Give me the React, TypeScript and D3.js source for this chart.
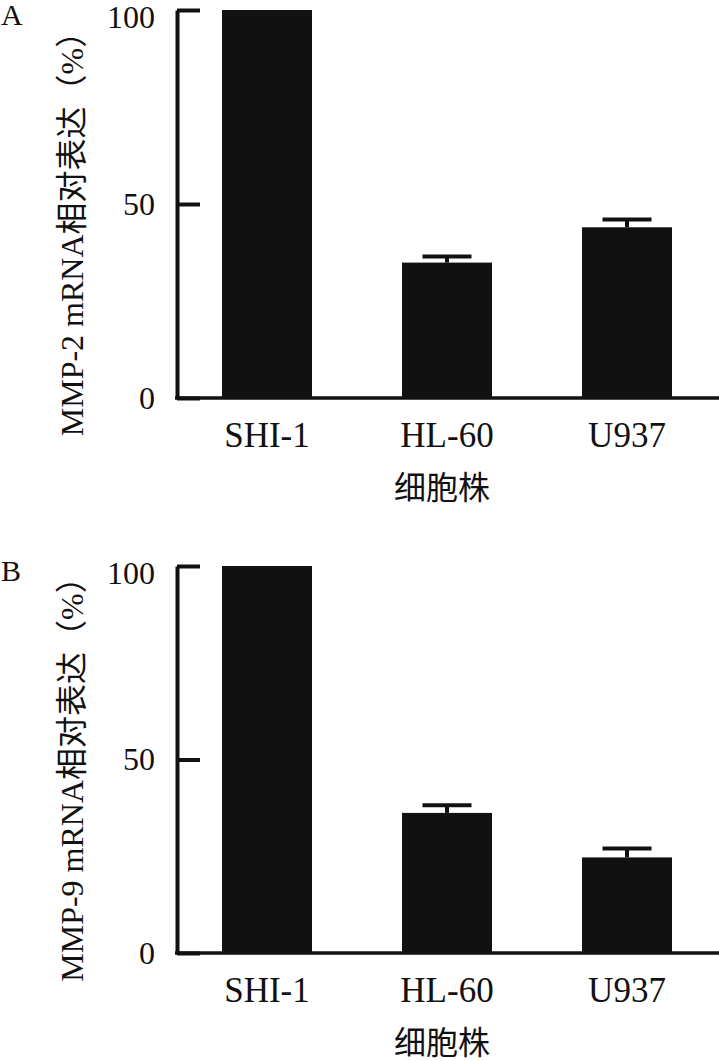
import React, { useEffect, useRef } from 'react';
import * as d3 from 'd3';

const cellLines = ['SHI-1', 'HL-60', 'U937'];
const mmp2Values = [100, 34.9, 44.0];
const mmp2Errors = [0, 1.6, 2.0];
const mmp9Values = [100, 36.2, 24.7];
const mmp9Errors = [0, 2.0, 2.3];
const yTicks = [0, 50, 100];

const panels = [
  { letter: 'A', title: 'MMP-2 mRNA相对表达（%）', values: mmp2Values, errors: mmp2Errors, top: 10, bottom: 398, titleShift: 22 },
  { letter: 'B', title: 'MMP-9 mRNA相对表达（%）', values: mmp9Values, errors: mmp9Errors, top: 566, bottom: 953, titleShift: 12 },
];

const W = 719, H = 1061;
const SERIF = '"Liberation Serif", "Times New Roman", "Noto Sans CJK SC", serif';

export default function App() {
  const ref = useRef<SVGSVGElement>(null);

  useEffect(() => {
    const svg = d3.select(ref.current);
    svg.selectAll('*').remove();

    const axisX = 177;
    const x = d3.scaleBand<string>()
      .domain(cellLines)
      .range([axisX, 717])
      .paddingInner(0.5)
      .paddingOuter(0.25);

    panels.forEach(p => {
      const g = svg.append('g');
      const y = d3.scaleLinear().domain([0, 100]).range([p.bottom, p.top]);

      // bars
      g.selectAll('rect.bar')
        .data(p.values)
        .enter()
        .append('rect')
        .attr('class', 'bar')
        .attr('x', (d, i) => x(cellLines[i]) as number)
        .attr('y', d => y(d))
        .attr('width', x.bandwidth())
        .attr('height', d => p.bottom - y(d))
        .attr('fill', '#111');

      // error bars (only upward)
      p.values.forEach((v, i) => {
        if (!p.errors[i]) return;
        const cx = (x(cellLines[i]) as number) + x.bandwidth() / 2;
        const capW = 49;
        g.append('line')
          .attr('x1', cx).attr('x2', cx)
          .attr('y1', y(v)).attr('y2', y(v + p.errors[i]))
          .attr('stroke', '#111').attr('stroke-width', 4);
        g.append('line')
          .attr('x1', cx - capW / 2).attr('x2', cx + capW / 2)
          .attr('y1', y(v + p.errors[i])).attr('y2', y(v + p.errors[i]))
          .attr('stroke', '#111').attr('stroke-width', 4);
      });

      // y axis, ticks pointing inward
      const gy = g.append('g')
        .attr('transform', `translate(${axisX},0)`)
        .call(d3.axisLeft(y).tickValues(yTicks).tickSizeInner(-23).tickSizeOuter(0).tickPadding(22));
      gy.select('.domain').attr('stroke', '#111').attr('stroke-width', 4);
      gy.selectAll('.tick line').attr('stroke', '#111').attr('stroke-width', 4);
      gy.selectAll('.tick text')
        .attr('font-family', SERIF)
        .attr('font-size', 32)
        .attr('fill', '#111')
        .attr('transform', d => (d === 100 ? 'translate(0,7)' : null));

      // x axis
      const gx = g.append('g')
        .attr('transform', `translate(0,${p.bottom})`)
        .call(d3.axisBottom(x).tickSize(0).tickPadding(24));
      gx.select('.domain').attr('stroke', '#111').attr('stroke-width', 3.5)
        .attr('d', `M${axisX - 2},0H${W}`);
      gx.selectAll('.tick text')
        .attr('font-family', SERIF)
        .attr('font-size', 35)
        .attr('fill', '#111');

      // x title
      g.append('text')
        .attr('x', 442)
        .attr('y', p.bottom + 101)
        .attr('text-anchor', 'middle')
        .attr('font-family', SERIF)
        .attr('font-size', 32)
        .attr('fill', '#111')
        .text('细胞株');

      // y title
      const midY = (p.top + p.bottom) / 2 + p.titleShift;
      g.append('text')
        .attr('transform', `translate(83,${midY}) rotate(-90)`)
        .attr('text-anchor', 'middle')
        .attr('font-family', SERIF)
        .attr('font-size', 32)
        .attr('fill', '#111')
        .text(p.title);

      // panel letter
      g.append('text')
        .attr('x', 1)
        .attr('y', p.top + 15)
        .attr('font-family', SERIF)
        .attr('font-size', 30)
        .attr('fill', '#111')
        .text(p.letter);
    });
  }, []);

  return (
    <svg ref={ref} width={W} height={H}
         style={{ position: 'absolute', left: 0, top: 0, background: '#fff' }} />
  );
}
